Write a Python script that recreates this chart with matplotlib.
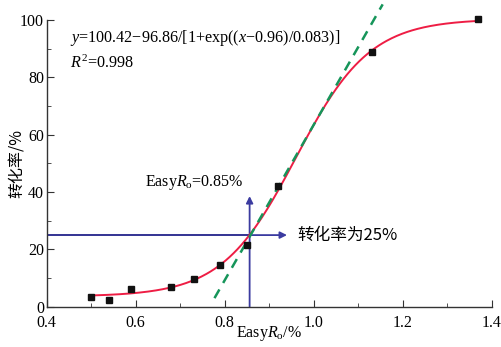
import numpy as np
import matplotlib
matplotlib.use("Agg")
import matplotlib.pyplot as plt
from matplotlib.ticker import MultipleLocator

# ---- data ----
ro_obs = [0.50, 0.54, 0.59, 0.68, 0.73, 0.79, 0.85, 0.92, 1.13, 1.37]
conv_obs = [3.5, 2.4, 6.2, 7.0, 9.8, 14.7, 21.6, 42.3, 88.8, 100.3]
fit_a, fit_b, fit_x0, fit_dx = 100.42, 96.86, 0.96, 0.083
fit_range = [0.50, 1.37]
tangent_x = [0.777, 1.155]
tangent_y = [3.0, 105.5]
ro_mark = 0.856
conv_mark = 25
arrow_up_to = 38.6
arrow_right_to = 0.94
xticks = [0.4, 0.6, 0.8, 1.0, 1.2, 1.4]
yticks = [0, 20, 40, 60, 80, 100]

plt.rcParams['mathtext.fontset'] = 'custom'
plt.rcParams['mathtext.rm'] = 'Liberation Serif'
plt.rcParams['mathtext.it'] = 'Liberation Serif:italic'
plt.rcParams['font.family'] = ['Liberation Serif', 'Noto Sans CJK SC']

fig = plt.figure(figsize=(5.02, 3.47), dpi=100)
ax = fig.add_axes([0.093, 0.116, 0.8865, 0.826])

xs = np.linspace(fit_range[0], fit_range[1], 300)
ys = fit_a - fit_b / (1 + np.exp((xs - fit_x0) / fit_dx))

navy = '#23238a'
arrowc = '#3b3ba0'
# horizontal line + arrow
ax.plot([0.4, ro_mark], [conv_mark, conv_mark], color=navy, lw=1.3, zorder=2)
ax.annotate('', xy=(arrow_right_to, conv_mark), xytext=(ro_mark, conv_mark),
            arrowprops=dict(arrowstyle='-|>', color=arrowc, lw=1.3,
                            mutation_scale=10, shrinkA=0, shrinkB=0), zorder=2)
ax.annotate('', xy=(ro_mark, arrow_up_to), xytext=(ro_mark, 0),
            arrowprops=dict(arrowstyle='-|>', color=arrowc, lw=1.3,
                            mutation_scale=10, shrinkA=0, shrinkB=0), zorder=2)

ax.plot(xs, ys, color='#ee1d44', lw=1.4, zorder=3)
ax.plot(tangent_x, tangent_y, color='#16955a', lw=1.8, ls=(0, (4, 3)),
        zorder=4, clip_on=False)
ax.plot(ro_obs, conv_obs, 's', color='#111111', ms=5, zorder=5, clip_on=False)

ax.set_xlim(0.4, 1.4)
ax.set_ylim(0, 100)
ax.set_xticks(xticks)
ax.set_yticks(yticks)
ax.set_xticklabels([f'{v:.1f}' for v in xticks])
ax.set_yticklabels([str(v) for v in yticks])
ax.xaxis.set_minor_locator(MultipleLocator(0.1))
ax.yaxis.set_minor_locator(MultipleLocator(10))
ax.tick_params(which='both', direction='in', labelsize=11.5, color='#333333')
ax.tick_params(axis='x', which='both', pad=6)
ax.tick_params(axis='y', which='both', pad=2)
ax.tick_params(which='major', length=5)
ax.tick_params(which='minor', length=3)
for s in ['top', 'right']:
    ax.spines[s].set_visible(False)
for s in ['left', 'bottom']:
    ax.spines[s].set_color('#333333')
    ax.spines[s].set_linewidth(1.0)

ax.text(0.452, 93.6, r'$y$=100.42−96.86/[1+exp(($x$−0.96)/0.083)]',
        fontsize=11.6, va='center', ha='left')
ax.text(0.452, 84.8, r'$R^2$=0.998', fontsize=11.6, va='center', ha='left')
ax.text(0.843, 43.5, r'Easy$R_\mathrm{o}$=0.85%', fontsize=11.5, va='center',
        ha='right')
ax.text(0.963, 24.8, '转化率为25%', fontsize=12, va='center', ha='left',
        family=['Noto Sans CJK SC'])

ax.set_xlabel(r'Easy$R_\mathrm{o}$/%', fontsize=11.5)
ax.xaxis.set_label_coords(0.5, -0.06)
ax.set_ylabel('转化率/%', fontsize=11.5, family=['Noto Sans CJK SC'])
ax.yaxis.set_label_coords(-0.047, 0.5)

fig.savefig('out.png', dpi=100)
